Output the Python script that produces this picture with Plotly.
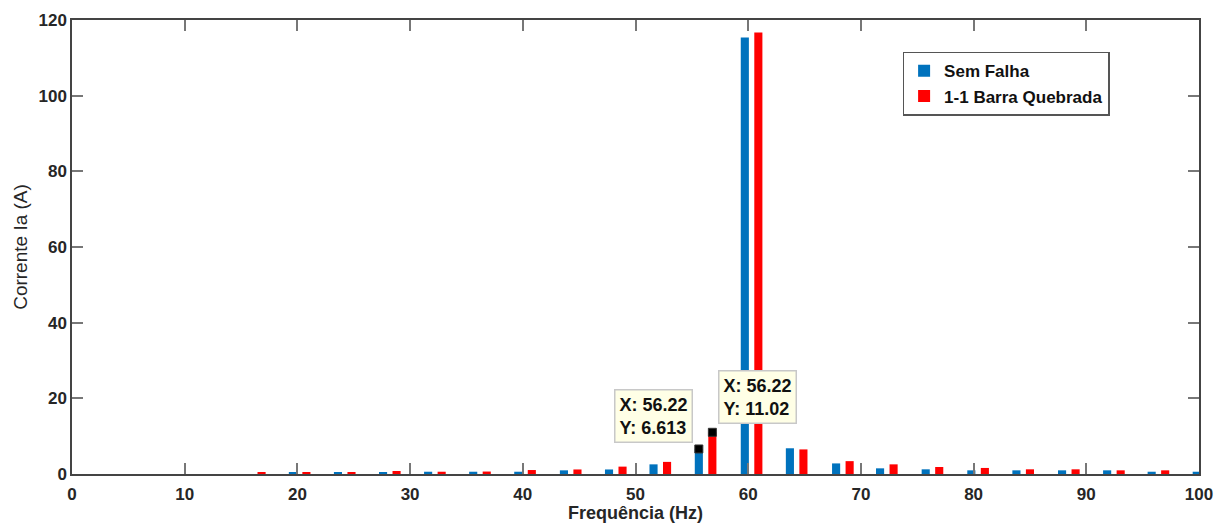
import plotly.graph_objects as go

# Group centre frequencies (Hz)
freqs = [16.22, 20.2, 24.2, 28.2, 32.2, 36.2, 40.2, 44.25, 48.25, 52.2, 56.22,
         60.3, 64.3, 68.4, 72.3, 76.35, 80.4, 84.4, 88.45, 92.45, 96.4, 100.4]
# Current Ia (A)
sem_falha = [0.0, 0.4, 0.4, 0.4, 0.6, 0.6, 0.6, 0.97, 1.2, 2.55, 6.613,
             115.4, 6.8, 2.8, 1.5, 1.24, 0.97, 0.97, 0.97, 0.97, 0.6, 0.6]
barra_quebrada = [0.4, 0.4, 0.4, 0.8, 0.6, 0.65, 1.05, 1.2, 1.95, 3.2, 11.02,
                  116.7, 6.5, 3.4, 2.55, 1.85, 1.6, 1.24, 1.24, 0.97, 0.97, 0.0]

xticks = [0, 10, 20, 30, 40, 50, 60, 70, 80, 90, 100]
yticks = [0, 20, 40, 60, 80, 100, 120]

tip_freq = 56.22
tip_idx = freqs.index(tip_freq)

BLUE = "#0072BD"
RED = "#FF0000"
bw = 0.72
shift = 0.6
FONT = "Arial, Liberation Sans, sans-serif"

fig = go.Figure()
fig.add_trace(go.Bar(x=freqs, y=sem_falha, name="Sem Falha", marker_color=BLUE,
                     marker_line_width=0, width=bw, offset=-shift - bw / 2))
fig.add_trace(go.Bar(x=freqs, y=barra_quebrada, name="1-1 Barra Quebrada", marker_color=RED,
                     marker_line_width=0, width=bw, offset=shift - bw / 2))
# data tip markers
fig.add_trace(go.Scatter(x=[tip_freq - shift, tip_freq + shift],
                         y=[sem_falha[tip_idx], barra_quebrada[tip_idx]],
                         mode="markers", showlegend=False,
                         marker=dict(symbol="square", size=8, color="black",
                                     line=dict(width=1, color="#333"))))

tipfont = dict(family=FONT, size=18, color="#111")
fig.add_annotation(x=tip_freq - shift, y=sem_falha[tip_idx], xref="x", yref="y",
                   text=f"<b>X: {tip_freq}</b><br><b>Y: {sem_falha[tip_idx]}</b>",
                   showarrow=False, xanchor="right", yanchor="bottom", xshift=-6, yshift=6,
                   align="left", bgcolor="#FFFFE6", bordercolor="#C8C8C8", borderwidth=1.5,
                   borderpad=4, font=tipfont)
fig.add_annotation(x=tip_freq + shift, y=barra_quebrada[tip_idx], xref="x", yref="y",
                   text=f"<b>X: {tip_freq}</b><br><b>Y: {barra_quebrada[tip_idx]}</b>",
                   showarrow=False, xanchor="left", yanchor="bottom", xshift=6, yshift=8,
                   align="left", bgcolor="#FFFFE6", bordercolor="#C8C8C8", borderwidth=1.5,
                   borderpad=4, font=tipfont)

axis_common = dict(showgrid=False, zeroline=False, showline=True, linecolor="#444",
                   linewidth=1.5, mirror="ticks", ticks="inside", ticklen=11,
                   tickwidth=1.5, tickcolor="#777", automargin=False,
                   tickfont=dict(family=FONT, size=17, color="#262626", weight="bold"))

fig.update_layout(
    width=1216, height=523,
    margin=dict(l=72, r=17, t=20, b=49, autoexpand=False),
    paper_bgcolor="white", plot_bgcolor="white",
    barmode="overlay",
    font=dict(family=FONT),
    xaxis=dict(range=[0, 100], tickmode="array", tickvals=xticks, ticklabelstandoff=4,
               title=dict(text="<b>Frequência (Hz)</b>", standoff=2,
                          font=dict(size=18, color="#262626")),
               **axis_common),
    yaxis=dict(range=[0, 120], tickmode="array", tickvals=yticks,
               title=dict(text="Corrente Ia (A)", standoff=6,
                          font=dict(size=19, color="#262626")),
               **axis_common),
    legend=dict(x=0.737, y=0.93, xanchor="left", yanchor="top",
                bordercolor="#555", borderwidth=1.5, bgcolor="white",
                font=dict(size=17, color="#111", weight="bold"),
                tracegroupgap=0, itemsizing="constant"),
)

fig.write_html("out.html")
